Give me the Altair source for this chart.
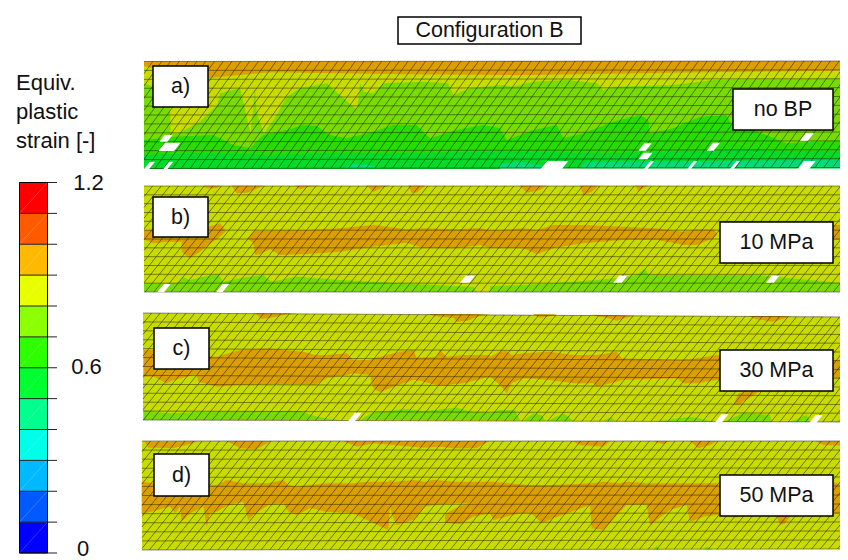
import altair as alt
import pandas as pd

FONT = "Liberation Sans"
# contour band colours of the strips (legend colour, shaded) and of the legend
SHADE = {2: "#DC9F00", 3: "#C8DC00", 4: "#78DC00", 5: "#28DC00", 6: "#00DC28", 7: "#00DC78"}
LEGEND_COLORS = ["#0000ff", "#005aff", "#00b9ff", "#00ffe8", "#00ff8c", "#00ff2e",
                 "#2eff00", "#8cff00", "#e8ff00", "#ffb900", "#ff5a00", "#ff0000"]
LEGEND_LEVELS = [i / 10 for i in range(13)]
LEGEND_LABELS = [("1.2", 88.5, 183), ("0.6", 86.5, 367), ("0", 83, 548.5)]

# strip: x0, y top left/right, y bottom left/right, base band, shear, column width
STRIPS = {
    "a": (144, 61.5, 61, 168.5, 167.5, 4, 0.72, 8.8),
    "b": (144, 186, 186, 292, 292, 3, 0.8, 8.6),
    "c": (143, 313, 317, 420, 422, 3, 0.8, 8.6),
    "d": (142, 441, 441, 550, 549, 3, 0.8, 8.6),
}
ROWS = 12
X_END = 848

A1, A2 = (140, 50), (500, 50)
B1, B2 = (140, 180), (490, 180)
C1, C2 = (140, 305), (490, 305)
D1, D2 = (140, 435), (490, 435)

REGIONS = [
    # a) band 3 (top)
    (A1, 3, [(12,35,100),(40,35,110),(90,35,165),(92,35,250),(115,35,250),(180,35,215),(232,35,165),(240,35,130),(300,35,115),(345,35,118),(350,35,190),(332,35,250),(372,35,250),(410,35,195),(440,35,140),(480,35,115),(560,35,100),(660,35,100),(672,35,125),(645,35,175),(652,35,175),(700,35,130),(730,35,100),(850,35,95),(925,35,100),(940,35,135),(990,35,115),(1080,35,105)]),
    (A2, 3, [(0,33,105),(40,33,110),(100,33,95),(200,33,90),(290,33,100),(310,33,120),(340,33,110),(520,33,105),(640,33,90),(1044,33,85)]),
    # a) band 2 (top)
    (A1, 2, [(12,35,48),(36,35,54),(207,35,84),(270,35,78),(390,35,67),(600,35,70),(800,35,73),(1080,35,75)]),
    (A2, 2, [(0,33,75),(100,33,75),(500,33,68),(1044,33,62)]),
    # a) band 5
    (A1, 5, [(12,270,357),(100,260,357),(220,255,357),(280,285,357),(330,295,357),(370,255,357),(440,240,357),(490,225,357),(530,228,357),(570,255,357),(620,265,357),(700,245,357),(760,225,357),(830,225,357),(870,265,357),(950,240,357),(1030,225,357),(1080,235,357)]),
    (A2, 5, [(0,235,355),(20,270,355),(100,240,355),(170,225,355),(190,265,355),(250,250,355),(340,215,355),(420,195,355),(445,210,355),(450,250,355),(520,235,355),(600,200,355),(680,195,355),(700,240,355),(760,240,355),(860,280,355),(1044,270,355)]),
    # a) band 6
    (A1, 6, [(12,315,357),(200,310,357),(400,315,357),(600,310,357),(800,310,357),(1080,305,357)]),
    (A2, 6, [(0,305,355),(100,305,355),(300,310,355),(500,305,355),(700,300,355),(1044,305,355)]),
    # a) band 7
    (A1, 7, [(610,355,355),(640,340,355),(690,345,355),(720,355,355)]),
    (A2, 7, [(0,342,355),(60,335,355),(120,345,355),(130,355,355)]),
    (A2, 7, [(240,355,355),(260,335,355),(1044,330,355)]),

    # b) band 2
    (B1, 2, [(190,17,17),(200,17,25),(230,17,25),(240,17,17)]),
    (B1, 2, [(275,17,17),(290,17,40),(320,17,38),(360,17,22),(370,17,17)]),
    (B1, 2, [(465,17,17),(480,17,28),(500,17,22),(540,17,17)]),
    (B1, 2, [(680,17,17),(700,17,35),(730,17,22),(750,17,17)]),
    (B1, 2, [(805,17,17),(815,17,38),(830,17,38),(855,17,17)]),
    (B1, 2, [(12,150,178),(40,150,190),(80,150,185),(125,150,185),(125,150,215),(150,150,235),(180,150,215),(205,140,195),(240,130,170),(255,150,155),(258,152,152)]),
    (B1, 2, [(322,175,175),(340,155,190),(345,152,225),(360,152,222),(390,152,208),(420,150,225),(500,150,222),(600,145,215),(700,135,200),(800,148,188),(850,145,205),(950,148,205),(1020,145,195),(1050,150,205)]),
    (B2, 2, [(0,150,205),(30,150,205),(100,145,205),(140,150,222),(190,135,205),(280,135,190),(400,140,180),(500,145,180),(580,155,195),(620,148,195),(670,148,175),(680,160,165)]),
    (B2, 2, [(1030,135,180),(1074,135,180)]),
    (B2, 2, [(90,17,17),(110,17,38),(150,17,30),(170,17,17)]),
    (B2, 2, [(270,17,17),(280,17,45),(305,17,35),(325,17,17)]),
    (B2, 2, [(435,17,17),(445,17,32),(475,17,17)]),
    # b) band 4
    (B1, 4, [(12,310,335),(110,310,335),(130,292,335),(150,300,335),(190,290,335),(235,283,335),(250,305,335),(300,295,335),(370,285,335),(395,305,335),(470,290,335),(600,300,335),(700,305,335),(830,312,335),(940,318,335),(1000,320,335),(1010,335,335)]),
    (B2, 4, [(0,318,335),(100,315,335),(250,305,335),(380,295,335),(440,285,335),(465,265,335),(475,285,335),(700,285,335),(800,285,335),(900,295,335),(1074,310,335)]),

    # c) band 2
    (C1, 2, [(345,25,25),(365,25,42),(410,25,35),(440,25,28),(470,25,25)]),
    (C1, 2, [(860,27,27),(900,27,35),(940,27,38),(950,27,50),(980,27,48),(1020,28,33),(1050,29,29)]),
    (C1, 2, [(12,135,215),(42,135,215),(80,135,235),(100,135,225),(170,135,208),(175,150,230),(230,155,245),(300,135,240),(380,130,238),(490,140,238),(525,150,240),(560,150,220),(620,145,210),(640,165,205),(690,165,210),(700,160,250),(720,155,262),(780,140,238),(820,135,225),(830,158,225),(890,155,240),(900,135,240),(920,155,240),(970,150,235),(1050,150,215)]),
    (C2, 2, [(130,28,28),(150,28,38),(190,28,32),(200,29,29)]),
    (C2, 2, [(300,29,29),(350,30,38),(380,30,47),(420,32,35),(430,32,32)]),
    (C2, 2, [(775,33,33),(800,33,43),(850,33,50),(890,34,38),(900,34,34)]),
    (C2, 2, [(960,35,35),(1000,35,37)]),
    (C2, 2, [(0,155,215),(30,140,240),(50,138,265),(65,150,235),(100,145,220),(180,140,225),(250,150,235),(310,150,235),(320,150,245),(380,140,230),(395,160,225),(560,165,220),(580,165,235),(620,160,235),(680,150,225),(690,150,225)]),
    (C2, 2, [(1030,165,220),(1074,165,220)]),
    (C2, 2, [(730,300,300),(745,265,300),(760,262,290),(800,260,265),(810,258,258)]),
    # c) band 4
    (C1, 4, [(12,315,345),(40,320,345),(90,325,345),(200,320,345),(480,318,345),(530,335,345),(600,345,345)]),
    (C1, 4, [(660,345,345),(700,322,345),(800,312,345),(850,318,345),(950,308,345),(1000,322,345),(1050,322,345)]),
    (C2, 4, [(0,325,346),(30,315,346),(75,315,346),(90,346,346)]),
    (C2, 4, [(100,347,347),(130,325,347),(155,330,347),(165,347,347)]),
    (C2, 4, [(175,347,347),(220,325,347),(250,347,347)]),
    (C2, 4, [(340,347,347),(365,337,347),(375,347,347)]),
    (C2, 4, [(500,349,349),(600,335,349),(670,349,349)]),
    (C2, 4, [(700,350,350),(760,325,350),(840,330,350),(845,350,350)]),
    (C2, 4, [(900,350,350),(950,330,350),(960,350,350)]),
    (C2, 4, [(1030,351,351),(1074,335,351)]),

    # d) band 2
    (D1, 2, [(12,18,18),(25,20,38),(50,20,38),(100,20,40),(160,18,25),(170,18,18)]),
    (D1, 2, [(260,18,18),(300,18,40),(350,18,42),(390,18,20)]),
    (D1, 2, [(610,18,18),(650,18,35),(700,18,25),(760,18,30),(850,18,38),(900,18,35),(940,18,40),(1010,18,40),(1040,18,22),(1050,18,18)]),
    (D1, 2, [(5,140,238),(90,150,215),(105,150,235),(120,150,215),(125,150,260),(150,150,235),(190,150,215),(200,150,275),(210,150,235),(230,150,230),(260,135,212),(310,145,200),(325,145,255),(340,145,240),(385,145,210),(430,135,205),(445,150,230),(470,155,240),(510,150,220),(560,145,230),(640,145,235),(680,140,255),(750,135,215),(760,140,250),(745,140,285),(770,140,270),(820,135,255),(855,140,215),(880,135,210),(950,140,205),(1050,140,205)]),
    (D1, 2, [(915,240,262),(925,232,265),(960,212,268),(1000,205,245),(1050,205,235)]),
    (D2, 2, [(245,18,18),(270,18,30),(340,18,35),(360,18,18)]),
    (D2, 2, [(490,18,18),(520,18,28),(540,18,18)]),
    (D2, 2, [(600,18,18),(625,18,40),(660,18,30),(680,18,18)]),
    (D2, 2, [(975,18,18),(1000,18,30),(1060,18,32),(1074,18,18)]),
    (D2, 2, [(0,140,235),(10,140,255),(90,148,235),(115,150,235),(130,150,240),(155,150,265),(190,150,250),(300,145,210),(305,145,280),(340,140,285),(385,145,235),(410,140,210),(470,145,210),(480,145,270),(520,145,240),(540,145,225),(590,145,210),(600,145,260),(640,145,245),(680,145,240),(690,150,240)]),
    (D2, 2, [(720,243,243),(740,243,248),(750,243,243)]),
    (D2, 2, [(860,243,243),(870,243,270),(885,243,265),(900,243,245),(910,243,243)]),
    (D2, 2, [(1030,140,238),(1074,160,235)]),
    (D2, 4, [(490,343,343),(500,333,343),(510,343,343)]),
    (D2, 4, [(640,343,343),(652,335,343),(665,343,343)]),
]

# Missing elements: (crop origin, x left, x right, y top, y bottom) in crop units
HOLES = [
    (A1,12,45,335,357),(A1,70,100,335,357),(A1,55,122,278,303),(A1,58,98,255,275),
    (A2,122,205,333,357),(A2,432,462,333,357),(A2,562,592,333,357),(A2,690,720,333,357),(A2,893,947,333,357),
    (A2,415,458,308,328),(A2,415,455,280,302),(A2,620,660,278,302),(A2,900,942,250,272),
    (B1,52,92,312,337),(B1,228,268,312,337),(B1,960,1005,287,308),
    (B2,370,412,287,308),(B2,828,868,287,308),
    (C1,625,665,323,348),(C2,675,715,328,352),(C2,958,998,330,354),
]

# Labelled boxes: text, x1, x2, y1, y2
BOXES = [
    ("Configuration B", 398, 581, 17, 44),
    ("a)", 153, 208, 66, 107), ("no BP", 733, 833, 89, 130),
    ("b)", 153, 208, 197, 237), ("10 MPa", 720, 833, 222, 263),
    ("c)", 154, 209, 328, 369), ("30 MPa", 720, 833, 350, 391),
    ("d)", 154, 209, 454, 496), ("50 MPa", 720, 833, 475, 516),
]
LEGEND_TITLE = [("Equiv.", 83), ("plastic", 112), ("strain [-]", 141)]
LEGEND_X = (19.5, 47.5, 57)
LEGEND_Y = (553, 182.5)

XS = alt.Scale(domain=[8, 840], range=[0, 832], nice=False, zero=False)
YS = alt.Scale(domain=[560, 8], range=[552, 0], nice=False, zero=False)
X = alt.X("x:Q", scale=XS, axis=None)
Y = alt.Y("y:Q", scale=YS, axis=None)


def ly(v):
    return LEGEND_Y[0] + (LEGEND_Y[1] - LEGEND_Y[0]) * v / 1.2


rows = []
n = 0
for name, (x0, ytl, ytr, ybl, ybr, base, s, w) in STRIPS.items():
    n += 1
    rows.append(dict(id=f"{n:03d}", x=x0, y=ytl, y2=ybl, c=SHADE[base]))
    rows.append(dict(id=f"{n:03d}", x=X_END, y=ytr, y2=ybr, c=SHADE[base]))
for (ox, oy), band, pts in REGIONS:
    n += 1
    for zx, zt, zb in pts:
        rows.append(dict(id=f"{n:03d}", x=ox + zx / 3, y=oy + zt / 3, y2=oy + zb / 3, c=SHADE[band]))
bands = alt.Chart(pd.DataFrame(rows)).mark_area(interpolate="linear", opacity=1, strokeWidth=0).encode(
    x=X, y=Y, y2="y2:Q", detail="id:N", color=alt.Color("c:N", scale=None))

hrows = []
for i, ((ox, oy), xl, xr, zt, zb) in enumerate(HOLES):
    sh = 0.8 * (zb - zt)
    hrows.append(dict(id=i, y=oy + zt / 3, x=ox + (xl + sh) / 3, x2=ox + xr / 3))
    hrows.append(dict(id=i, y=oy + zb / 3, x=ox + xl / 3, x2=ox + (xr - sh) / 3))
holes = alt.Chart(pd.DataFrame(hrows)).mark_area(orient="horizontal", color="white", opacity=1).encode(
    y=Y, x=X, x2="x2:Q", detail="id:N")

row_lines = []
diag_lines = []
for name, (x0, ytl, ytr, ybl, ybr, base, s, w) in STRIPS.items():
    def top(x):
        return ytl + (ytr - ytl) * (x - x0) / (X_END - x0)

    def bot(x):
        return ybl + (ybr - ybl) * (x - x0) / (X_END - x0)

    for r in range(ROWS + 1):
        t = r / ROWS
        row_lines.append(dict(x=x0, x2=X_END, y=ytl + (ybl - ytl) * t, y2=ytr + (ybr - ytr) * t))
    H = ybl - ytl
    xb = x0 - s * H
    while xb < X_END:
        xt = xb + s * H
        bx, tx = xb, xt
        byy, tyy = bot(max(xb, x0)), top(min(xt, X_END))
        if bx < x0:
            bx = x0
            byy = ybl - (x0 - xb) / s
        if tx > X_END:
            tx = X_END
            tyy = ybl - (X_END - xb) / s
        if tx > x0 and bx < X_END:
            diag_lines.append(dict(x=bx, x2=tx, y=byy, y2=tyy))
        xb += w
rows_mark = alt.Chart(pd.DataFrame(row_lines)).mark_rule(color="#1c1c00", strokeWidth=0.8, opacity=0.6).encode(
    x=X, x2="x2:Q", y=Y, y2="y2:Q")
diag_mark = alt.Chart(pd.DataFrame(diag_lines)).mark_rule(color="#141400", strokeWidth=0.85, opacity=0.62).encode(
    x=X, x2="x2:Q", y=Y, y2="y2:Q")

cells = pd.DataFrame([
    dict(x=LEGEND_X[0], x2=LEGEND_X[1], y=ly(LEGEND_LEVELS[i]), y2=ly(LEGEND_LEVELS[i + 1]), c=LEGEND_COLORS[i])
    for i in range(12)])
legend_cells = alt.Chart(cells).mark_rect(strokeWidth=0).encode(
    x=X, x2="x2:Q", y=Y, y2="y2:Q", color=alt.Color("c:N", scale=None))
legend_diag = alt.Chart(cells).mark_rule(color="white", strokeWidth=0.6, opacity=0.35).encode(
    x=X, x2="x2:Q", y=Y, y2="y2:Q")
legend_ticks = alt.Chart(pd.DataFrame(
    [dict(x=LEGEND_X[0], x2=LEGEND_X[2], y=ly(v)) for v in LEGEND_LEVELS])).mark_rule(color="#222222", strokeWidth=1).encode(
    x=X, x2="x2:Q", y=Y)
legend_frame = alt.Chart(pd.DataFrame([dict(x=LEGEND_X[0], x2=LEGEND_X[1], y=LEGEND_Y[0], y2=LEGEND_Y[1])])).mark_rect(
    fill="white", fillOpacity=0, stroke="black", strokeWidth=1).encode(x=X, x2="x2:Q", y=Y, y2="y2:Q")
legend_text = alt.Chart(pd.DataFrame(
    [dict(t=t, x=x, y=y) for t, x, y in LEGEND_LABELS])).mark_text(
    font=FONT, fontSize=22, align="center", baseline="middle", color="#111111").encode(x=X, y=Y, text="t:N")
title_text = alt.Chart(pd.DataFrame(
    [dict(t=t, x=16, y=y) for t, y in LEGEND_TITLE])).mark_text(
    font=FONT, fontSize=22, align="left", baseline="middle", color="#111111").encode(x=X, y=Y, text="t:N")

box_df = pd.DataFrame([dict(t=t, x=a, x2=b, y=c, y2=d, xm=(a + b) / 2, ym=(c + d) / 2 + 0.5) for t, a, b, c, d in BOXES])
box_rect = alt.Chart(box_df).mark_rect(fill="white", stroke="black", strokeWidth=1.5).encode(
    x=X, x2="x2:Q", y=Y, y2="y2:Q")
box_text = alt.Chart(box_df).mark_text(
    font=FONT, fontSize=21.5, align="center", baseline="middle", color="#111111").encode(
    x=alt.X("xm:Q", scale=XS, axis=None), y=alt.Y("ym:Q", scale=YS, axis=None), text="t:N")

chart = alt.layer(
    bands, rows_mark, diag_mark, holes, legend_cells, legend_diag, legend_ticks, legend_frame,
    legend_text, title_text, box_rect, box_text
).properties(
    width=832, height=552, padding=0, autosize=alt.AutoSizeParams(type="none"), background="white"
).configure_view(strokeWidth=0)

chart.save("out.html", embed_options={"renderer": "svg", "actions": False})
